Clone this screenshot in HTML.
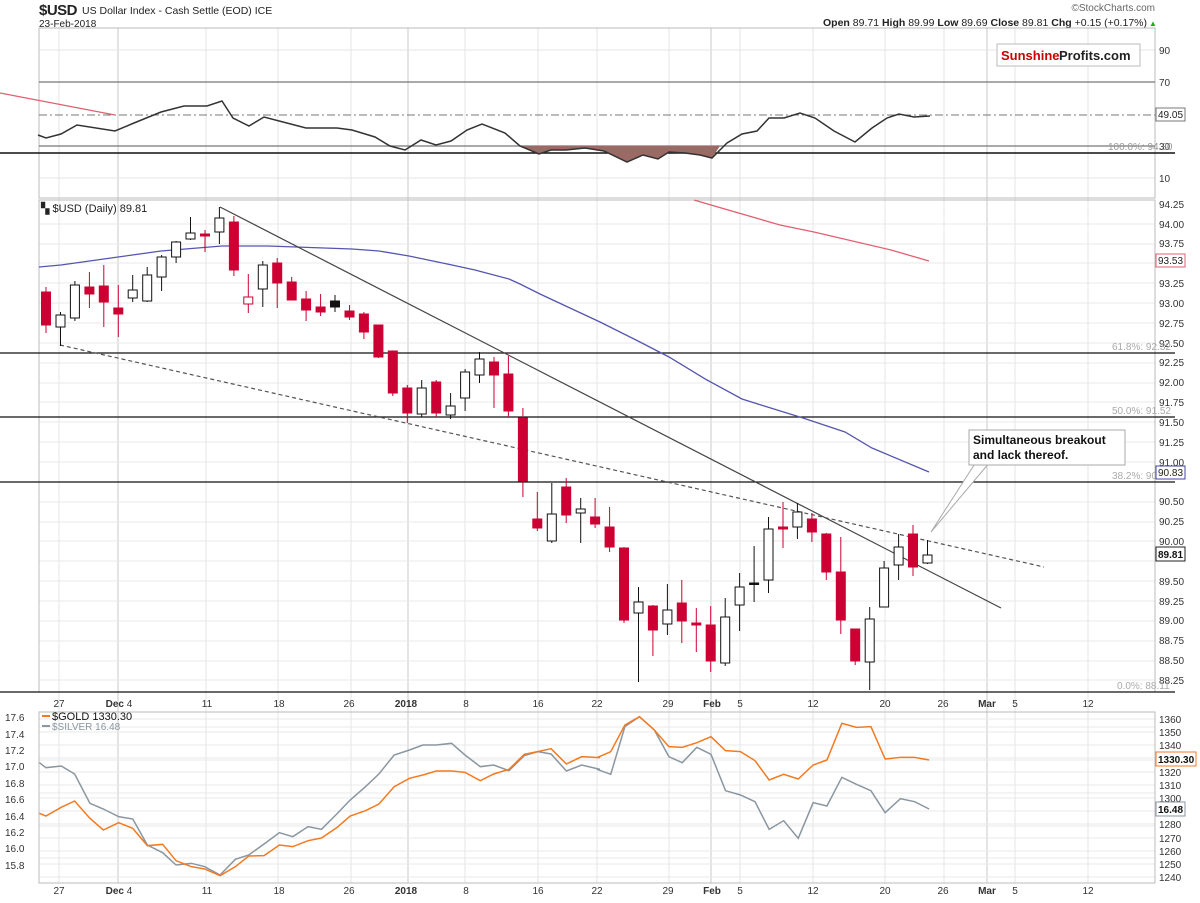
<!DOCTYPE html>
<html><head><meta charset="utf-8"><style>
body{margin:0;background:#fff;width:1200px;height:898px;overflow:hidden;font-family:"Liberation Sans",sans-serif;}
svg text{font-family:"Liberation Sans",sans-serif;}
</style></head><body>
<svg width="1200" height="898" viewBox="0 0 1200 898" xmlns="http://www.w3.org/2000/svg">
<rect width="1200" height="898" fill="#fff"/>
<!-- header -->
<text x="39" y="15" font-size="15" font-weight="bold" fill="#222" letter-spacing="-0.5">$USD</text>
<text x="82" y="14" font-size="10.5" fill="#222">US Dollar Index - Cash Settle (EOD) ICE</text>
<text x="39" y="27" font-size="10" fill="#222">23-Feb-2018</text>
<text x="1155" y="11" font-size="10" fill="#666" text-anchor="end">©StockCharts.com</text>
<text x="1147" y="26" font-size="10.5" fill="#222" text-anchor="end"><tspan font-weight="bold">Open</tspan> 89.71 <tspan font-weight="bold">High</tspan> 89.99 <tspan font-weight="bold">Low</tspan> 89.69 <tspan font-weight="bold">Close</tspan> 89.81 <tspan font-weight="bold">Chg</tspan> +0.15 (+0.17%)</text>
<text x="1149" y="26" font-size="8" fill="#2a2">▲</text>

<!-- vertical grid lines for all panels -->
<g stroke="#e4e4e4" stroke-width="1">
<line x1="206" y1="28" x2="206" y2="883"/><line x1="278" y1="28" x2="278" y2="883"/><line x1="351" y1="28" x2="351" y2="883"/>
<line x1="465" y1="28" x2="465" y2="883"/><line x1="538" y1="28" x2="538" y2="883"/><line x1="597" y1="28" x2="597" y2="883"/>
<line x1="669" y1="28" x2="669" y2="883"/><line x1="740" y1="28" x2="740" y2="883"/><line x1="813" y1="28" x2="813" y2="883"/>
<line x1="885" y1="28" x2="885" y2="883"/><line x1="944" y1="28" x2="944" y2="883"/><line x1="1015" y1="28" x2="1015" y2="883"/>
<line x1="1088" y1="28" x2="1088" y2="883"/><line x1="59" y1="28" x2="59" y2="883"/>
</g>
<g stroke="#c8c8c8" stroke-width="1">
<line x1="118" y1="28" x2="118" y2="883"/><line x1="408" y1="28" x2="408" y2="883"/><line x1="711" y1="28" x2="711" y2="883"/><line x1="987" y1="28" x2="987" y2="883"/>
</g>

<!-- RSI panel -->
<g stroke="#e4e4e4"><line x1="39" y1="50" x2="1155" y2="50"/><line x1="39" y1="178" x2="1155" y2="178"/></g>
<rect x="39" y="28" width="1116" height="170" fill="none" stroke="#bbb"/>
<line x1="39" y1="82" x2="1155" y2="82" stroke="#777" stroke-width="1.2"/>
<line x1="39" y1="115" x2="1155" y2="115" stroke="#777" stroke-dasharray="8,3,2,3"/>
<line x1="39" y1="146" x2="1155" y2="146" stroke="#777" stroke-width="1.2"/>
<line x1="0" y1="153" x2="1175" y2="153" stroke="#111" stroke-width="1.5"/>
<line x1="0" y1="93" x2="115" y2="115" stroke="#e06070" stroke-width="1.3"/>
<polygon fill="#9c6a64" points="515,146 520,146 539,154 551,150 566,150 585,148 604,151 627,162 643,155 658,159 669,152 685,153 700,155 712,158 720,146"/>
<polyline fill="none" stroke="#333" stroke-width="1.5" points="38,135 46,138 61,134 77,125 115,131 134,123 161,112 184,106 207,106 222,101 233,118 249,126 264,117 283,122 306,128 337,128 352,130 375,137 390,146 405,150 421,140 436,145 451,141 467,130 482,124 505,133 520,146 539,154 551,150 566,150 585,148 604,151 627,162 643,155 658,159 669,152 685,153 700,155 712,158 727,143 742,134 757,131 769,118 784,118 800,113 815,118 834,131 855,142 872,128 887,118 899,114 914,117 930,116"/>
<g font-size="10" fill="#333"><text x="1159" y="54">90</text><text x="1159" y="86">70</text><text x="1159" y="182">10</text><text x="1159" y="150">30</text></g>
<rect x="1156" y="108" width="29" height="13" fill="#fff" stroke="#777"/><text x="1158" y="118" font-size="10" fill="#222">49.05</text>
<text x="1108" y="150" font-size="10" fill="#999">100.0%: 94.30</text>
<rect x="997" y="44" width="143" height="22" fill="#fff" stroke="#bbb"/>
<text x="1001" y="60" font-size="13" font-weight="bold" fill="#c00">Sunshine</text><text x="1059" y="60" font-size="13" font-weight="bold" fill="#222">Profits.com</text>

<!-- main panel grid -->
<g stroke="#e8e8e8">
<line x1="39" y1="224" x2="1155" y2="224"/><line x1="39" y1="244" x2="1155" y2="244"/><line x1="39" y1="263" x2="1155" y2="263"/><line x1="39" y1="283" x2="1155" y2="283"/><line x1="39" y1="303" x2="1155" y2="303"/><line x1="39" y1="323" x2="1155" y2="323"/><line x1="39" y1="343" x2="1155" y2="343"/><line x1="39" y1="363" x2="1155" y2="363"/><line x1="39" y1="383" x2="1155" y2="383"/><line x1="39" y1="402" x2="1155" y2="402"/><line x1="39" y1="422" x2="1155" y2="422"/><line x1="39" y1="442" x2="1155" y2="442"/><line x1="39" y1="462" x2="1155" y2="462"/><line x1="39" y1="482" x2="1155" y2="482"/><line x1="39" y1="502" x2="1155" y2="502"/><line x1="39" y1="522" x2="1155" y2="522"/><line x1="39" y1="541" x2="1155" y2="541"/><line x1="39" y1="561" x2="1155" y2="561"/><line x1="39" y1="581" x2="1155" y2="581"/><line x1="39" y1="601" x2="1155" y2="601"/><line x1="39" y1="621" x2="1155" y2="621"/><line x1="39" y1="641" x2="1155" y2="641"/><line x1="39" y1="661" x2="1155" y2="661"/><line x1="39" y1="680" x2="1155" y2="680"/>
</g>
<rect x="39" y="200" width="1116" height="492" fill="none" stroke="#bbb"/>
<line x1="0" y1="692" x2="1175" y2="692" stroke="#111" stroke-width="1.3"/>
<g stroke="#111" stroke-width="1.3"><line x1="0" y1="353" x2="1175" y2="353"/><line x1="0" y1="417" x2="1175" y2="417"/><line x1="0" y1="482" x2="1175" y2="482"/></g>
<g font-size="10" fill="#333">
<text x="1159" y="208">94.25</text><text x="1159" y="228">94.00</text><text x="1159" y="247">93.75</text><text x="1159" y="287">93.25</text><text x="1159" y="307">93.00</text><text x="1159" y="327">92.75</text><text x="1159" y="347">92.50</text><text x="1159" y="366">92.25</text><text x="1159" y="386">92.00</text><text x="1159" y="406">91.75</text><text x="1159" y="426">91.50</text><text x="1159" y="446">91.25</text><text x="1159" y="466">91.00</text><text x="1159" y="505">90.50</text><text x="1159" y="525">90.25</text><text x="1159" y="545">90.00</text><text x="1159" y="585">89.50</text><text x="1159" y="605">89.25</text><text x="1159" y="624">89.00</text><text x="1159" y="644">88.75</text><text x="1159" y="664">88.50</text><text x="1159" y="684">88.25</text>
</g>
<g font-size="10" fill="#aaa"><text x="1112" y="350">61.8%: 92.32</text><text x="1112" y="414">50.0%: 91.52</text><text x="1112" y="479">38.2%: 90.71</text><text x="1117" y="689">0.0%: 88.11</text></g>
<rect x="1156" y="254" width="29" height="13" fill="#fff" stroke="#e06070"/><text x="1158" y="264" font-size="10" fill="#222">93.53</text>
<rect x="1156" y="466" width="29" height="13" fill="#fff" stroke="#4444aa"/><text x="1158" y="476" font-size="10" fill="#222">90.83</text>
<rect x="1156" y="547" width="29" height="14" fill="#fff" stroke="#222"/><text x="1158" y="558" font-size="10" font-weight="bold" fill="#111">89.81</text>
<text x="41" y="212" font-size="11" fill="#222">▚ $USD (Daily) 89.81</text>

<!-- MAs -->
<polyline fill="none" stroke="#5555b0" stroke-width="1.3" points="39,267 61,265 111,258 161,251 222,246 268,246 352,249 379,251 409,256 452,265 475,270 509,279 520,284 540,294 600,322 638,341 669,357 707,380 742,399 761,405 803,418 845,432 872,448 929,472"/>
<polyline fill="none" stroke="#e06070" stroke-width="1.3" points="694,200 711,205 780,225 814,232 891,250 929,261"/>
<!-- trendlines -->
<line x1="220" y1="207" x2="1001" y2="608" stroke="#444" stroke-width="1.2"/>
<line x1="60" y1="345" x2="1044" y2="567" stroke="#555" stroke-width="1.2" stroke-dasharray="4,3"/>

<!-- candles -->
<g stroke-width="1">
<g stroke="#cc0033" fill="#cc0033">
<line x1="46" y1="287" x2="46" y2="333"/><rect x="41.5" y="292" width="9" height="33"/>
<line x1="89.4" y1="272" x2="89.4" y2="308"/><rect x="84.9" y="287" width="9" height="7"/>
<line x1="103.8" y1="265" x2="103.8" y2="327"/><rect x="99.3" y="286" width="9" height="16"/>
<line x1="118.3" y1="285" x2="118.3" y2="337"/><rect x="113.8" y="308" width="9" height="6"/>
<line x1="205" y1="230" x2="205" y2="252"/><rect x="200.5" y="234" width="9" height="2"/>
<line x1="233.9" y1="216" x2="233.9" y2="276"/><rect x="229.4" y="222" width="9" height="48"/>
<line x1="248.3" y1="274" x2="248.3" y2="313"/><rect x="243.8" y="297" width="9" height="7" fill="#fff"/>
<line x1="277.2" y1="258" x2="277.2" y2="308"/><rect x="272.7" y="263" width="9" height="20"/>
<line x1="291.7" y1="277" x2="291.7" y2="300"/><rect x="287.2" y="282" width="9" height="18"/>
<line x1="306.1" y1="291" x2="306.1" y2="321"/><rect x="301.6" y="299" width="9" height="11"/>
<line x1="320.6" y1="294" x2="320.6" y2="316"/><rect x="316.1" y="307" width="9" height="5"/>
<line x1="349.5" y1="305" x2="349.5" y2="320"/><rect x="345" y="311" width="9" height="6"/>
<line x1="363.9" y1="312" x2="363.9" y2="339"/><rect x="359.4" y="314" width="9" height="18"/>
<line x1="378.4" y1="325" x2="378.4" y2="358"/><rect x="373.9" y="325" width="9" height="32"/>
<line x1="392.8" y1="351" x2="392.8" y2="396"/><rect x="388.3" y="351" width="9" height="42"/>
<line x1="407.3" y1="385" x2="407.3" y2="423"/><rect x="402.8" y="388" width="9" height="25"/>
<line x1="436.2" y1="380" x2="436.2" y2="417"/><rect x="431.7" y="382" width="9" height="31"/>
<line x1="494" y1="357" x2="494" y2="408"/><rect x="489.5" y="362" width="9" height="13"/>
<line x1="508.4" y1="356" x2="508.4" y2="417"/><rect x="503.9" y="374" width="9" height="37"/>
<line x1="522.9" y1="408" x2="522.9" y2="497"/><rect x="518.4" y="418" width="9" height="63"/>
<line x1="537.3" y1="492" x2="537.3" y2="531"/><rect x="532.8" y="519" width="9" height="9"/>
<line x1="566.2" y1="478" x2="566.2" y2="523"/><rect x="561.7" y="487" width="9" height="28"/>
<line x1="595.1" y1="498" x2="595.1" y2="528"/><rect x="590.6" y="517" width="9" height="7"/>
<line x1="609.6" y1="507" x2="609.6" y2="552"/><rect x="605.1" y="527" width="9" height="20"/>
<line x1="624" y1="547" x2="624" y2="623"/><rect x="619.5" y="548" width="9" height="72"/>
<line x1="652.9" y1="605" x2="652.9" y2="656"/><rect x="648.4" y="606" width="9" height="24"/>
<line x1="681.8" y1="580" x2="681.8" y2="643"/><rect x="677.3" y="603" width="9" height="18"/>
<line x1="696.3" y1="608" x2="696.3" y2="652"/><rect x="691.8" y="623" width="9" height="2"/>
<line x1="710.7" y1="606" x2="710.7" y2="672"/><rect x="706.2" y="625" width="9" height="36"/>
<line x1="783" y1="502" x2="783" y2="548"/><rect x="778.5" y="527" width="9" height="2"/>
<line x1="811.9" y1="513" x2="811.9" y2="542"/><rect x="807.4" y="519" width="9" height="13"/>
<line x1="826.3" y1="533" x2="826.3" y2="580"/><rect x="821.8" y="534" width="9" height="38"/>
<line x1="840.8" y1="537" x2="840.8" y2="634"/><rect x="836.3" y="572" width="9" height="48"/>
<line x1="855.2" y1="629" x2="855.2" y2="665"/><rect x="850.7" y="629" width="9" height="32"/>
<line x1="913" y1="525" x2="913" y2="576"/><rect x="908.5" y="534" width="9" height="33"/>
</g>
<g stroke="#111" fill="#fff">
<line x1="60.5" y1="312" x2="60.5" y2="346"/><rect x="56" y="315" width="9" height="12"/>
<line x1="74.9" y1="281" x2="74.9" y2="321"/><rect x="70.4" y="285" width="9" height="33"/>
<line x1="132.7" y1="275" x2="132.7" y2="302"/><rect x="128.2" y="290" width="9" height="8"/>
<line x1="147.2" y1="267" x2="147.2" y2="302"/><rect x="142.7" y="275" width="9" height="26"/>
<line x1="161.6" y1="255" x2="161.6" y2="291"/><rect x="157.1" y="257" width="9" height="20"/>
<line x1="176.1" y1="241" x2="176.1" y2="263"/><rect x="171.6" y="242" width="9" height="15"/>
<line x1="190.5" y1="217" x2="190.5" y2="240"/><rect x="186" y="233" width="9" height="6"/>
<line x1="219.4" y1="207" x2="219.4" y2="244"/><rect x="214.9" y="218" width="9" height="14"/>
<line x1="262.8" y1="261" x2="262.8" y2="307"/><rect x="258.3" y="265" width="9" height="24"/>
<line x1="335" y1="295" x2="335" y2="312"/><rect x="330.5" y="301" width="9" height="6" fill="#111"/>
<line x1="421.7" y1="380" x2="421.7" y2="417"/><rect x="417.2" y="388" width="9" height="26"/>
<line x1="450.6" y1="393" x2="450.6" y2="419"/><rect x="446.1" y="406" width="9" height="9"/>
<line x1="465.1" y1="369" x2="465.1" y2="411"/><rect x="460.6" y="372" width="9" height="26"/>
<line x1="479.5" y1="352" x2="479.5" y2="383"/><rect x="475" y="359" width="9" height="16"/>
<line x1="551.8" y1="483" x2="551.8" y2="543"/><rect x="547.3" y="514" width="9" height="27"/>
<line x1="580.7" y1="498" x2="580.7" y2="543"/><rect x="576.2" y="509" width="9" height="4"/>
<line x1="638.5" y1="587" x2="638.5" y2="682"/><rect x="634" y="602" width="9" height="11"/>
<line x1="667.4" y1="584" x2="667.4" y2="635"/><rect x="662.9" y="610" width="9" height="14"/>
<line x1="725.2" y1="598" x2="725.2" y2="666"/><rect x="720.7" y="617" width="9" height="46"/>
<line x1="739.6" y1="573" x2="739.6" y2="631"/><rect x="735.1" y="587" width="9" height="18"/>
<line x1="754.1" y1="546" x2="754.1" y2="602"/><rect x="749.6" y="583" width="9" height="1.5" fill="#111"/>
<line x1="768.5" y1="517" x2="768.5" y2="593"/><rect x="764" y="529" width="9" height="51"/>
<line x1="797.4" y1="503" x2="797.4" y2="539"/><rect x="792.9" y="512" width="9" height="15"/>
<line x1="869.7" y1="607" x2="869.7" y2="690"/><rect x="865.2" y="619" width="9" height="43"/>
<line x1="884.1" y1="561" x2="884.1" y2="607"/><rect x="879.6" y="568" width="9" height="39"/>
<line x1="898.6" y1="534" x2="898.6" y2="580"/><rect x="894.1" y="547" width="9" height="18"/>
<line x1="927.5" y1="540" x2="927.5" y2="564"/><rect x="923" y="555" width="9" height="8"/>
</g>
</g>

<!-- annotation -->
<polygon points="976,462 990,462 931,532" fill="#fff" stroke="#aaa"/>
<rect x="969" y="430" width="156" height="35" fill="#fff" stroke="#aaa"/>
<line x1="977" y1="463" x2="989" y2="463" stroke="#fff" stroke-width="2"/>
<text x="973" y="444" font-size="12" font-weight="bold" fill="#111">Simultaneous breakout</text>
<text x="973" y="459" font-size="12" font-weight="bold" fill="#111">and lack thereof.</text>

<!-- x axis labels -->
<g font-size="10" fill="#333" text-anchor="middle">
<g transform="translate(0,707)">
<text x="59">27</text><text x="119"><tspan font-weight="bold">Dec</tspan> 4</text><text x="207">11</text><text x="279">18</text><text x="349">26</text><text x="406" font-weight="bold">2018</text><text x="466">8</text><text x="538">16</text><text x="597">22</text><text x="668">29</text><text x="712" font-weight="bold">Feb</text><text x="740">5</text><text x="813">12</text><text x="885">20</text><text x="943">26</text><text x="987" font-weight="bold">Mar</text><text x="1015">5</text><text x="1088">12</text>
</g>
<g transform="translate(0,894)">
<text x="59">27</text><text x="119"><tspan font-weight="bold">Dec</tspan> 4</text><text x="207">11</text><text x="279">18</text><text x="349">26</text><text x="406" font-weight="bold">2018</text><text x="466">8</text><text x="538">16</text><text x="597">22</text><text x="668">29</text><text x="712" font-weight="bold">Feb</text><text x="740">5</text><text x="813">12</text><text x="885">20</text><text x="943">26</text><text x="987" font-weight="bold">Mar</text><text x="1015">5</text><text x="1088">12</text>
</g>
</g>

<!-- bottom panel -->
<g stroke="#e8e8e8">
<line x1="39" y1="719" x2="1155" y2="719"/><line x1="39" y1="732" x2="1155" y2="732"/><line x1="39" y1="745" x2="1155" y2="745"/><line x1="39" y1="758" x2="1155" y2="758"/><line x1="39" y1="772" x2="1155" y2="772"/><line x1="39" y1="785" x2="1155" y2="785"/><line x1="39" y1="798" x2="1155" y2="798"/><line x1="39" y1="811" x2="1155" y2="811"/><line x1="39" y1="824" x2="1155" y2="824"/><line x1="39" y1="838" x2="1155" y2="838"/><line x1="39" y1="851" x2="1155" y2="851"/><line x1="39" y1="864" x2="1155" y2="864"/><line x1="39" y1="877" x2="1155" y2="877"/>
<line x1="39" y1="727" x2="1155" y2="727"/><line x1="39" y1="760" x2="1155" y2="760"/><line x1="39" y1="793" x2="1155" y2="793"/><line x1="39" y1="826" x2="1155" y2="826"/><line x1="39" y1="858" x2="1155" y2="858"/>
</g>
<rect x="39" y="712" width="1116" height="171" fill="none" stroke="#bbb"/>
<g font-size="10" fill="#333">
<text x="5" y="721">17.6</text><text x="5" y="738">17.4</text><text x="5" y="754">17.2</text><text x="5" y="770">17.0</text><text x="5" y="787">16.8</text><text x="5" y="803">16.6</text><text x="5" y="820">16.4</text><text x="5" y="836">16.2</text><text x="5" y="852">16.0</text><text x="5" y="869">15.8</text>
<text x="1159" y="723">1360</text><text x="1159" y="736">1350</text><text x="1159" y="749">1340</text><text x="1159" y="776">1320</text><text x="1159" y="789">1310</text><text x="1159" y="802">1300</text><text x="1159" y="828">1280</text><text x="1159" y="842">1270</text><text x="1159" y="855">1260</text><text x="1159" y="868">1250</text><text x="1159" y="881">1240</text>
</g>
<rect x="1156" y="752" width="40" height="14" fill="#fff" stroke="#f47a20"/><text x="1158" y="763" font-size="10" font-weight="bold" fill="#111">1330.30</text>
<rect x="1156" y="802" width="29" height="14" fill="#fff" stroke="#8a96a0"/><text x="1158" y="813" font-size="10" font-weight="bold" fill="#111">16.48</text>
<line x1="42" y1="716" x2="50" y2="716" stroke="#f47a20" stroke-width="2"/><text x="52" y="720" font-size="11" fill="#111">$GOLD 1330.30</text>
<line x1="42" y1="726" x2="50" y2="726" stroke="#8a96a0" stroke-width="2"/><text x="52" y="730" font-size="10" fill="#8a96a0">$SILVER 16.48</text>

<g transform="translate(0,690) scale(0.3827,0.33333)">
<polyline fill="none" stroke="#8a96a0" stroke-width="1.5" vector-effect="non-scaling-stroke" points="103,218 120,233 160,228 195,252 235,340 270,357 310,380 347,387 385,465 425,488 460,525 500,520 535,530 575,555 615,508 650,495 690,462 730,428 765,440 805,410 840,418 880,372 915,330 955,290 990,252 1030,195 1070,180 1105,165 1140,165 1180,160 1215,195 1255,230 1290,225 1330,242 1370,197 1405,185 1440,192 1480,243 1520,225 1568,238"/>
<polyline fill="none" stroke="#f47a20" stroke-width="1.5" vector-effect="non-scaling-stroke" points="103,370 120,378 160,352 195,333 235,385 270,420 310,398 347,415 385,467 425,463 460,512 500,530 535,537 575,557 615,530 650,498 690,497 730,465 765,470 805,452 840,444 880,413 915,378 955,362 990,342 1030,290 1070,265 1105,255 1140,243 1180,243 1215,247 1255,272 1290,252 1330,238 1370,193 1405,185 1440,176 1480,222 1520,200 1568,203"/>
</g>
<g transform="translate(600,690) scale(0.3827,0.33333)">
<polyline fill="none" stroke="#8a96a0" stroke-width="1.5" vector-effect="non-scaling-stroke" points="-8,238 28,253 65,110 103,80 142,120 180,200 215,218 253,172 290,193 328,302 367,315 405,335 442,418 480,392 518,445 557,338 593,348 632,262 670,283 708,302 745,368 785,326 822,335 860,357"/>
<polyline fill="none" stroke="#f47a20" stroke-width="1.5" vector-effect="non-scaling-stroke" points="-8,203 28,185 65,105 103,80 142,120 180,170 215,172 253,158 290,140 328,182 367,185 405,212 442,270 480,253 518,267 557,225 593,210 632,100 670,112 708,110 745,207 785,202 822,202 860,210"/>
</g>
</svg>
</body></html>
